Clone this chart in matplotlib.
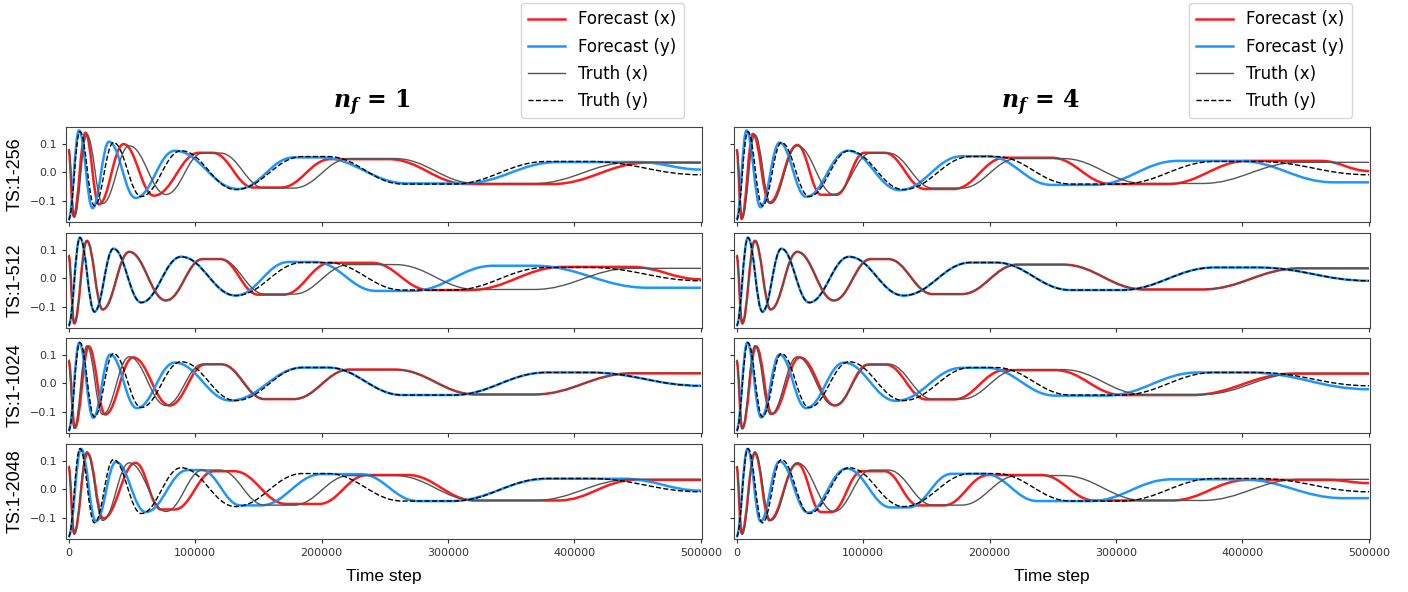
import matplotlib.pyplot as plt
from matplotlib.path import Path
from matplotlib.patches import PathPatch
from matplotlib.lines import Line2D

plt.rcParams['mathtext.fontset'] = 'dejavuserif'

# knots (time step, value): extrema and plateau edges
truth_x = [(0, 0.08), (4500, -0.155), (14500, 0.13), (27000, -0.107),
           (48000, 0.092), (77000, -0.076), (106000, 0.067), (120000, 0.067),
           (155000, -0.054), (178000, -0.054), (222000, 0.048), (258000, 0.048),
           (322000, -0.038), (368000, -0.038), (445000, 0.035), (500000, 0.035)]
truth_y = [(0, -0.163), (9000, 0.141), (20500, -0.115), (35500, 0.103),
           (57500, -0.083), (89000, 0.075), (132000, -0.059), (185000, 0.055),
           (205000, 0.055), (264000, -0.04), (304000, -0.04), (378000, 0.038),
           (412000, 0.038), (500000, -0.008)]

# n_f = 1
nf1_256_x = [(0, 0.08), (4000, -0.15), (13400, 0.137), (24000, -0.11),
             (43500, 0.098), (67500, -0.08), (103000, 0.068), (114000, 0.068),
             (146000, -0.052), (168000, -0.052), (207000, 0.046), (253000, 0.046),
             (315000, -0.04), (382000, -0.04), (458000, 0.034), (500000, 0.034)]
nf1_256_y = [(0, -0.163), (8300, 0.145), (19000, -0.123), (32000, 0.106),
             (53000, -0.088), (84000, 0.075), (134000, -0.057), (178000, 0.052),
             (199000, 0.052), (268000, -0.038), (312000, -0.038), (387000, 0.036),
             (450000, 0.036), (500000, 0.01)]
nf1_512_x = truth_x[:8] + [(150000, -0.056), (170000, -0.056), (207000, 0.054),
                           (240000, 0.054), (285000, -0.04), (317000, -0.04),
                           (391000, 0.04), (445000, 0.04), (500000, -0.003)]
nf1_512_y = truth_y[:7] + [(174000, 0.057), (195000, 0.057), (243000, -0.043),
                           (272000, -0.043), (336000, 0.044), (368000, 0.044),
                           (458000, -0.032), (500000, -0.032)]
nf1_1024_x = [(0, 0.08), (5000, -0.153), (16000, 0.128), (29000, -0.107),
              (51000, 0.09), (80000, -0.076), (108000, 0.066), (121000, 0.066)] + truth_x[8:]
nf1_1024_y = [(0, -0.163), (8500, 0.141), (19500, -0.118), (33000, 0.1),
              (54000, -0.085), (84000, 0.072), (128000, -0.059)] + truth_y[7:]
nf1_2048_x = [(0, 0.08), (4400, -0.15), (15000, 0.125), (27500, -0.1),
              (53000, 0.092), (73000, -0.069), (84000, -0.069), (115000, 0.063),
              (131000, 0.063), (172000, -0.05), (198000, -0.05), (236000, 0.05),
              (268000, 0.05), (321000, -0.038), (387000, -0.038), (448000, 0.033),
              (500000, 0.033)]
nf1_2048_y = [(0, -0.163), (9900, 0.14), (21700, -0.11), (37500, 0.095),
              (61000, -0.078), (94000, 0.067), (105000, 0.067), (136000, -0.055),
              (152000, -0.055), (200000, 0.053), (231000, 0.053), (276000, -0.04),
              (302000, -0.04), (379000, 0.037), (439000, 0.037), (500000, -0.004)]

# n_f = 4
nf4_256_x = [(0, 0.08), (4000, -0.16), (13000, 0.133), (26000, -0.104),
             (48000, 0.095), (67000, -0.077), (79000, -0.077), (101000, 0.068),
             (117000, 0.068), (149000, -0.057), (172000, -0.057), (212000, 0.051),
             (249000, 0.051), (296000, -0.04), (341000, -0.04), (404000, 0.04),
             (462000, 0.04), (500000, 0.005)]
nf4_256_y = [(0, -0.163), (7900, 0.145), (19000, -0.12), (34000, 0.103),
             (55000, -0.084), (88000, 0.075), (129000, -0.061), (178000, 0.056),
             (199000, 0.056), (249000, -0.043), (283000, -0.043), (349000, 0.04),
             (397000, 0.04), (472000, -0.034), (500000, -0.034)]
nf4_512_x = list(truth_x)
nf4_512_y = list(truth_y)
nf4_1024_x = [(0, 0.08), (4500, -0.155), (15500, 0.128), (28000, -0.105),
              (50000, 0.09), (78000, -0.076), (104000, 0.065), (118000, 0.065),
              (150000, -0.055), (172000, -0.055), (212000, 0.046), (252000, 0.046),
              (305000, -0.04), (360000, -0.04), (440000, 0.034), (500000, 0.034)]
nf4_1024_y = [(0, -0.163), (8500, 0.141), (19500, -0.117), (34000, 0.1),
              (55000, -0.085), (85000, 0.072), (126000, -0.06), (178000, 0.054),
              (198000, 0.054), (252000, -0.042), (292000, -0.042), (365000, 0.038),
              (405000, 0.038), (500000, -0.02)]
nf4_2048_x = [(0, 0.08), (4000, -0.15), (14500, 0.125), (26000, -0.106),
              (48000, 0.089), (67000, -0.078), (75000, -0.078), (99000, 0.063),
              (117000, 0.063), (144000, -0.055), (164000, -0.055), (199000, 0.05),
              (241000, 0.05), (283000, -0.038), (344000, -0.038), (404000, 0.033),
              (468000, 0.033), (500000, 0.022)]
nf4_2048_y = [(0, -0.163), (8700, 0.14), (19000, -0.11), (34000, 0.097),
              (56600, -0.08), (87000, 0.072), (122000, -0.062), (136000, -0.062),
              (170000, 0.054), (196000, 0.054), (238000, -0.04), (280000, -0.04),
              (344000, 0.035), (399000, 0.035), (480000, -0.03), (500000, -0.03)]

row_labels = ['TS:1-256', 'TS:1-512', 'TS:1-1024', 'TS:1-2048']
col_titles = [r'$\mathbfit{n_f}\,\mathbf{=}\,\mathbf{1}$',
              r'$\mathbfit{n_f}\,\mathbf{=}\,\mathbf{4}$']
forecasts = [
    [(nf1_256_x, nf1_256_y), (nf1_512_x, nf1_512_y),
     (nf1_1024_x, nf1_1024_y), (nf1_2048_x, nf1_2048_y)],
    [(nf4_256_x, nf4_256_y), (nf4_512_x, nf4_512_y),
     (nf4_1024_x, nf4_1024_y), (nf4_2048_x, nf4_2048_y)],
]

RED = '#ff1a1a'
BLUE = '#1e96ff'
GRAY = '#555555'


def curve(ax, pts, **kw):
    # smooth bezier through the knots, flat tangent at each knot
    verts = [pts[0]]
    codes = [Path.MOVETO]
    for (t0, v0), (t1, v1) in zip(pts[:-1], pts[1:]):
        d = (t1 - t0) * 0.4
        verts += [(t0 + d, v0), (t1 - d, v1), (t1, v1)]
        codes += [Path.CURVE4] * 3
    ax.add_patch(PathPatch(Path(verts, codes), fill=False, **kw))


W, H = 1408, 592
fig = plt.figure(figsize=(W / 100, H / 100), dpi=100)

col_left = [66, 734]
col_width = 636
row_top = [127, 233, 338, 444]
row_h = 95

for c in range(2):
    for r in range(4):
        ax = fig.add_axes([col_left[c] / W, 1 - (row_top[r] + row_h) / H,
                           col_width / W, row_h / H])
        fx, fy = forecasts[c][r]
        curve(ax, fx, edgecolor=RED, lw=1.8, zorder=2)
        curve(ax, fy, edgecolor=BLUE, lw=1.8, zorder=2)
        curve(ax, truth_x, edgecolor=GRAY, lw=1.0, zorder=3)
        curve(ax, truth_y, edgecolor='black', lw=1.0, ls='--', zorder=3)
        ax.set_xlim(-2000, 500800)
        ax.set_ylim(-0.171, 0.157)
        ax.set_yticks([-0.1, 0.0, 0.1])
        ax.set_xticks([0, 100000, 200000, 300000, 400000, 500000])
        ax.tick_params(labelsize=8, colors='#333333', length=3)
        for sp in ax.spines.values():
            sp.set_color('#444444')
        if r < 3:
            ax.tick_params(labelbottom=False)
        if c == 1:
            ax.tick_params(labelleft=False)
        if c == 0:
            fig.text(15 / W, 1 - (row_top[r] + row_h / 2) / H, row_labels[r],
                     rotation=90, ha='center', va='center', fontsize=13,
                     family='Liberation Sans')

    cx = col_left[c] + col_width / 2
    fig.text(cx / W, 1 - 577 / H, 'Time step', ha='center', va='center',
             fontsize=12.5, family='Liberation Sans')
    fig.text((cx - 12) / W, 1 - 103 / H, col_titles[c], ha='center',
             va='center', fontsize=17)

    handles = [Line2D([], [], color=RED, lw=1.8),
               Line2D([], [], color=BLUE, lw=1.8),
               Line2D([], [], color=GRAY, lw=1.0),
               Line2D([], [], color='black', lw=1.0, ls='--')]
    labels = ['Forecast (x)', 'Forecast (y)', 'Truth (x)', 'Truth (y)']
    anchor_x = [684, 1352][c]
    fig.legend(handles, labels, loc='upper right',
               bbox_to_anchor=(anchor_x / W, 1 - 3 / H), fontsize=12,
               handlelength=2.2, labelspacing=0.55, borderpad=0.45,
               borderaxespad=0)

fig.savefig('out.png', dpi=100)
